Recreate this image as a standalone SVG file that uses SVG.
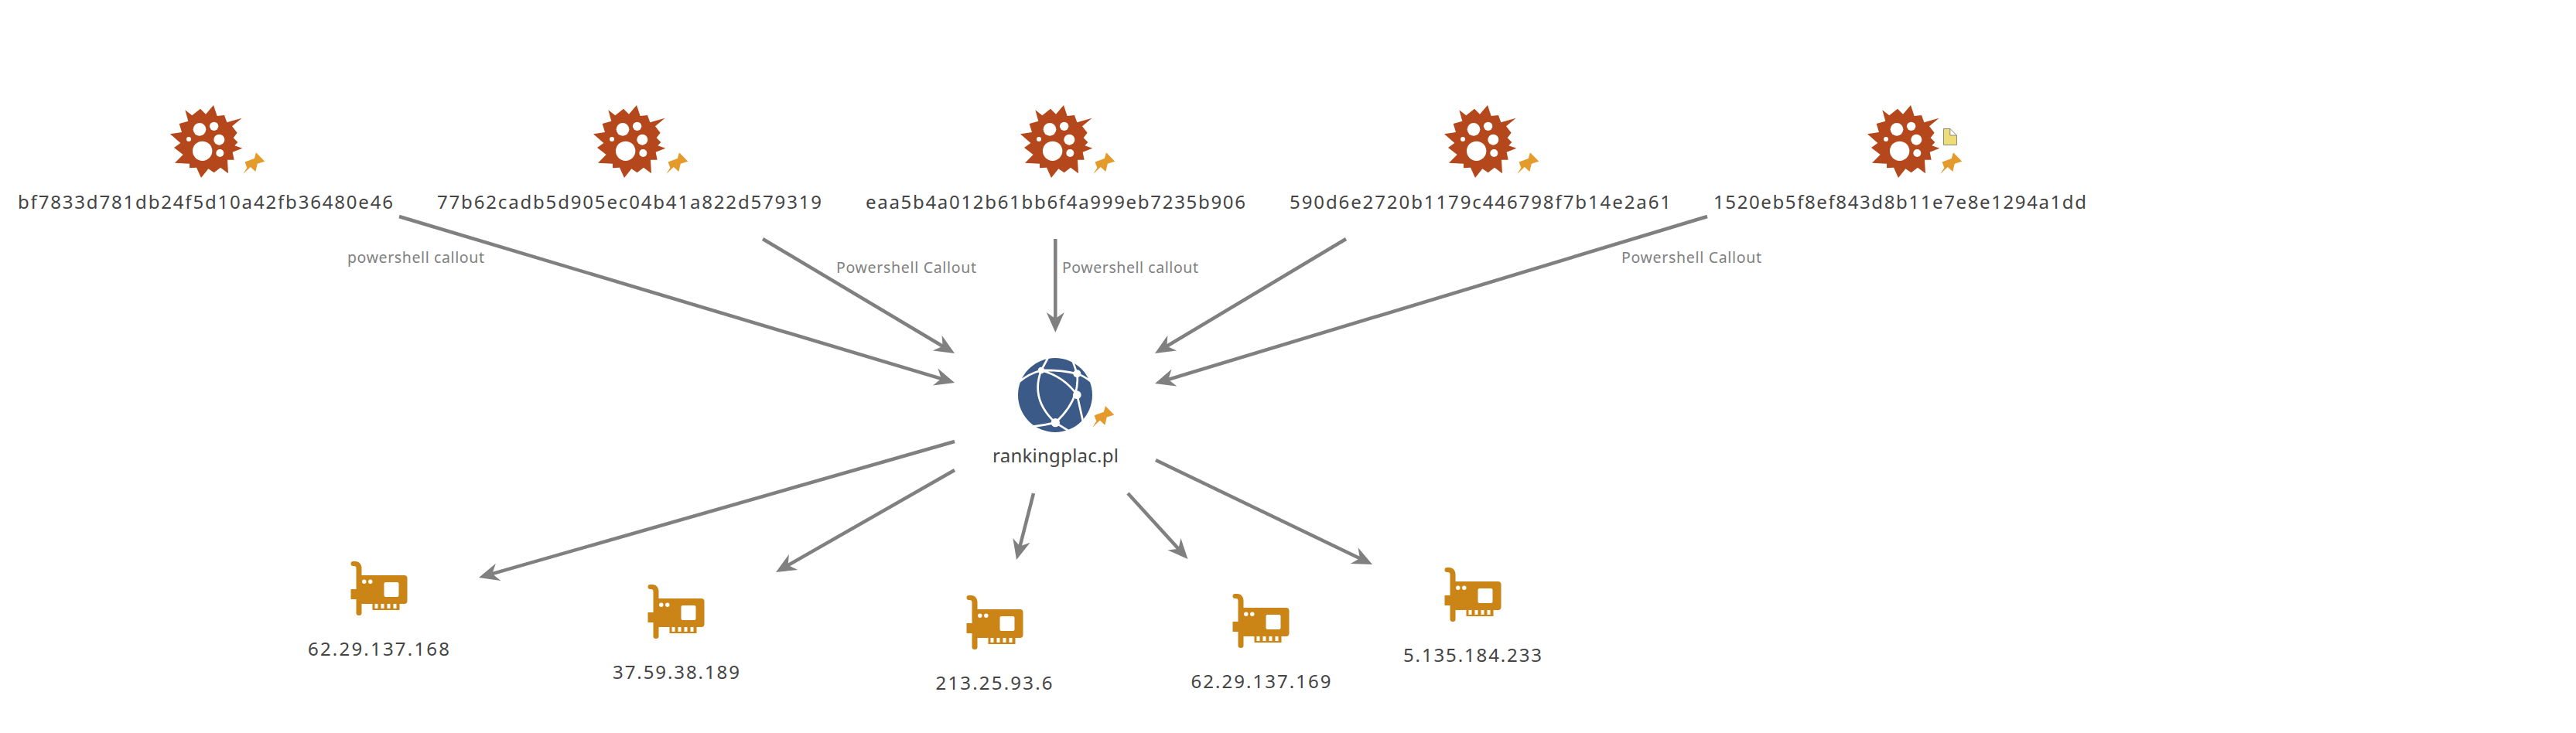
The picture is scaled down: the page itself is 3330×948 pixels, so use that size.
<svg xmlns="http://www.w3.org/2000/svg" width="3330" height="948" viewBox="0 0 3330 948">
<style>
.lbl{font-family:"Noto Sans","DejaVu Sans",sans-serif;font-size:24px;fill:#444;text-anchor:middle}
.edge-lbl{font-family:"Noto Sans","DejaVu Sans",sans-serif;font-size:19.5px;fill:#808080}
.edge{stroke:#808080;stroke-width:4.5;fill:none;marker-end:url(#arrow)}
.hole{fill:#fff}
.net{fill:none;stroke:#fff;stroke-width:8}
</style>
<defs>
<filter id="soft" x="-10%" y="-10%" width="120%" height="120%"><feGaussianBlur stdDeviation="0.7"/></filter>
<marker id="arrow" markerUnits="userSpaceOnUse" markerWidth="28" markerHeight="26" refX="10" refY="13" orient="auto"><path d="M0 1.500 L26 13 L0 24.500 L8 13 Z" fill="#808080"/></marker>
<g id="malware" filter="url(#soft)" transform="scale(.3333)">
<path fill="#B5471A" d="M178 97 205 118 237 92 258 113 288 78 302 120 330 117 340 145 398 128 360 160 380 185 365 205 382 222 370 235 400 245 362 260 368 290 342 290 345 343 315 320 290 340 268 325 240 360 222 320 195 322 195 305 138 302 170 270 135 243 160 225 120 190 165 183 155 150 190 140Z"/>
<circle class="hole" cx="234" cy="172" r="25"/><circle class="hole" cx="290" cy="160" r="17"/><circle class="hole" cx="310" cy="212" r="21"/><circle class="hole" cx="313" cy="264" r="15"/><circle class="hole" cx="192" cy="210" r="9"/><circle class="hole" cx="245" cy="256" r="38"/>
</g>
<path id="pin" fill="#E49B2C" d="M0 0 5-8 2.300-15.500 14.500-20 16.700-27.700 28-16.300 18.500-13.300 16-3 9.500-9Z"/>
<g id="nic" filter="url(#soft)">
<path fill="#CB8414" d="M3 0H6C11 0 14 4 14 9V18H69Q73 18 73 22V51Q73 55 69 55H63V63H28V55H14V67Q14 70 10.500 70T7 67V49H0V36H7V9C7 7 6 6 4 6H3Q0 6 0 3T3 0Z"/>
<circle class="hole" cx="17.300" cy="26.300" r="2.700"/><circle class="hole" cx="25.300" cy="26.300" r="2.700"/>
<rect class="hole" x="43" y="27" width="19" height="19" rx="2"/>
<rect class="hole" x="31" y="55" width="4" height="6"/><rect class="hole" x="39" y="55" width="4" height="6"/><rect class="hole" x="47" y="55" width="4" height="6"/><rect class="hole" x="55" y="55" width="4" height="6"/>
</g>
<clipPath id="gc"><rect x="160" y="96" width="310" height="292"/></clipPath>
</defs>
<rect width="3330" height="948" fill="#fff"/>
<g id="connectors">
<line class="edge" x1="516" y1="280" x2="1218.700" y2="490.400"/>
<line class="edge" x1="986" y1="309" x2="1220.300" y2="448.800"/>
<line class="edge" x1="1364.300" y1="309" x2="1364.300" y2="414"/>
<line class="edge" x1="1740" y1="309" x2="1506.700" y2="448.800"/>
<line class="edge" x1="2207" y1="280" x2="1508.300" y2="491.400"/>
<line class="edge" x1="1234" y1="571" x2="634.400" y2="742.600"/>
<line class="edge" x1="1234" y1="608" x2="1016.900" y2="732"/>
<line class="edge" x1="1336" y1="638" x2="1318" y2="708.500"/>
<line class="edge" x1="1458" y1="638" x2="1524.700" y2="711.200"/>
<line class="edge" x1="1494" y1="595" x2="1759.600" y2="723"/>
<text class="edge-lbl" x="449" y="340" textLength="177">powershell callout</text>
<text class="edge-lbl" x="1081" y="353" textLength="181">Powershell Callout</text>
<text class="edge-lbl" x="1373" y="353" textLength="176">Powershell callout</text>
<text class="edge-lbl" x="2096" y="340" textLength="181">Powershell Callout</text>
</g>
<g id="malware-1"><use href="#malware" transform="translate(180,110)"/><use href="#pin" x="314.300" y="225"/><text class="lbl" x="265.500" y="270" textLength="485">bf7833d781db24f5d10a42fb36480e46</text></g>
<g id="malware-2"><use href="#malware" transform="translate(727,110)"/><use href="#pin" x="861.300" y="225"/><text class="lbl" x="813.500" y="270" textLength="497">77b62cadb5d905ec04b41a822d579319</text></g>
<g id="malware-3"><use href="#malware" transform="translate(1279,110)"/><use href="#pin" x="1413.300" y="225"/><text class="lbl" x="1364.500" y="270" textLength="491">eaa5b4a012b61bb6f4a999eb7235b906</text></g>
<g id="malware-4"><use href="#malware" transform="translate(1827,110)"/><use href="#pin" x="1961.300" y="225"/><text class="lbl" x="1913.500" y="270" textLength="493">590d6e2720b1179c446798f7b14e2a61</text></g>
<g id="malware-5"><use href="#malware" transform="translate(2374,110)"/><use href="#pin" x="2508.300" y="225"/><path d="M2512.500 166.500H2520.800L2529.500 175V187.500H2512.500ZM2520.800 166.500V175H2529.500" fill="#EEDD77" stroke="#8A8A7A" stroke-width="1"/><text class="lbl" x="2456" y="270" textLength="482">1520eb5f8ef843d8b11e7e8e1294a1dd</text></g>
<g id="domain">
<g transform="translate(1260,430) scale(.3333)" filter="url(#soft)">
<circle cx="312" cy="243" r="144" fill="#3A5A87" clip-path="url(#gc)"/>
<path class="net" d="M258 147Q215 260 313 350M258 147Q345 170 397 242M397 160Q410 260 313 350M175 190Q210 160 258 147Q330 145 397 160Q425 170 450 190M258 147 285 97M397 160 380 110M397 242 420 345M313 350Q270 360 225 365M313 350 370 385"/>
<circle class="hole" cx="258" cy="147" r="13"/><circle class="hole" cx="397" cy="160" r="15"/><circle class="hole" cx="397" cy="242" r="16"/><circle class="hole" cx="313" cy="350" r="17"/>
</g>
<use href="#pin" x="1412.300" y="552.700"/>
<text class="lbl" x="1364.500" y="598" textLength="163">rankingplac.pl</text>
</g>
<g id="ip-1"><use href="#nic" x="453.500" y="726"/><text class="lbl" x="489.500" y="848" textLength="183">62.29.137.168</text></g>
<g id="ip-2"><use href="#nic" x="837.500" y="756"/><text class="lbl" x="874" y="878" textLength="164">37.59.38.189</text></g>
<g id="ip-3"><use href="#nic" x="1249.500" y="770"/><text class="lbl" x="1285" y="892" textLength="151">213.25.93.6</text></g>
<g id="ip-4"><use href="#nic" x="1593.500" y="768"/><text class="lbl" x="1630" y="890" textLength="181">62.29.137.169</text></g>
<g id="ip-5"><use href="#nic" x="1867.500" y="734"/><text class="lbl" x="1903.500" y="856" textLength="179">5.135.184.233</text></g>
</svg>
